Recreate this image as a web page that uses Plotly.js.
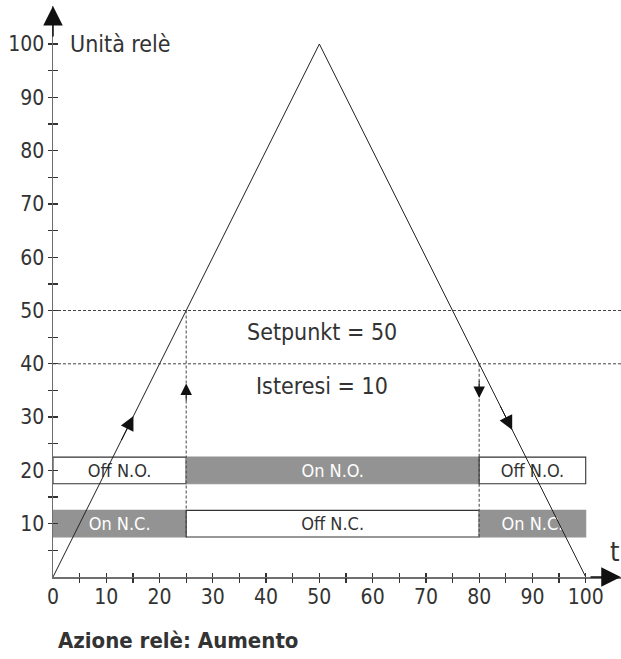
<!DOCTYPE html>
<html>
<head>
<meta charset="utf-8">
<script src="https://cdn.plot.ly/plotly-3.0.1.min.js"></script>
<style>html,body{margin:0;padding:0;background:#fff;}#chart{width:621px;height:659px;}</style>
</head>
<body>
<div id="chart"></div>
<script>
// ---- data ----
var curveT = [0, 50, 100];
var curveU = [0, 100, 0];
var setpoint = 50;
var hysteresis = 10;
var switchOn = 25;   // t where rising value reaches setpoint
var switchOff = 80;  // t where falling value reaches setpoint - hysteresis

var rowNO = 20, rowNC = 10;
var segStart = [0, 25, 80];
var segEnd = [25, 80, 100];
var labelsNO = ['Off N.O.', 'On N.O.', 'Off N.O.'];
var statesNO = ['off', 'on', 'off'];
var labelsNC = ['On N.C.', 'Off N.C.', 'On N.C.'];
var statesNC = ['on', 'off', 'on'];

var xTickVals = [0,10,20,30,40,50,60,70,80,90,100];
var xTickText = ['0','10','20','30','40','50','60','70','80','90','100'];
var minorTicks = [5,10,15,20,25,30,35,40,45,50,55,60,65,70,75,80,85,90,95,100];
var yTickVals = [10,20,30,40,50,60,70,80,90,100];
var yTickText = ['10','20','30','40','50','60','70','80','90','100'];

// ---- styling ----
var FONT = '"DejaVu Sans Condensed", "Liberation Sans Narrow", "Liberation Sans", sans-serif';
var TXT = '#333333';
var GRAY = '#939393';
var AX = '#6f6f6f';
var PXU = 5.33;           // px per unit
var L = 52.7, B = 82.4, T = 6;
var W = 621, H = 659;
var xMax = (W - L) / PXU;
var yMax = (H - B - T) / 5.326;

var traces = [];

function addRow(y, labels, states) {
  for (var i = 0; i < labels.length; i++) {
    var on = states[i] === 'on';
    traces.push({
      type: 'bar', orientation: 'h',
      y: [y], x: [segEnd[i] - segStart[i]], base: [segStart[i]],
      width: 5,
      marker: {color: on ? GRAY : '#ffffff', line: {color: on ? GRAY : '#333333', width: 1.1}},
      text: [labels[i]], textposition: 'inside', insidetextanchor: 'middle',
      textangle: 0, constraintext: 'none',
      textfont: {family: FONT, size: 18, color: on ? '#ffffff' : TXT},
      showlegend: false, hoverinfo: 'skip'
    });
  }
}
addRow(rowNO, labelsNO, statesNO);
addRow(rowNC, labelsNC, statesNC);

// triangle curve
traces.push({type: 'scatter', mode: 'lines', x: curveT, y: curveU,
  line: {color: '#222222', width: 1}, showlegend: false, hoverinfo: 'skip'});

// setpoint & hysteresis lines
var dashStyle = {color: '#444444', width: 1, dash: '3px,2px'};
traces.push({type: 'scatter', mode: 'lines', x: [0, xMax], y: [setpoint, setpoint], line: dashStyle, showlegend: false, hoverinfo: 'skip'});
traces.push({type: 'scatter', mode: 'lines', x: [0, xMax], y: [setpoint - hysteresis, setpoint - hysteresis], line: dashStyle, showlegend: false, hoverinfo: 'skip'});
// vertical switching lines
traces.push({type: 'scatter', mode: 'lines', x: [switchOn, switchOn], y: [setpoint, rowNC - 2.5], line: dashStyle, showlegend: false, hoverinfo: 'skip'});
traces.push({type: 'scatter', mode: 'lines', x: [switchOff, switchOff], y: [setpoint - hysteresis, rowNC - 2.5], line: dashStyle, showlegend: false, hoverinfo: 'skip'});

function arrow(x, y, ax, ay, size, width) {
  return {x: x, y: y, ax: ax, ay: ay, xref: 'x', yref: 'y', axref: 'x', ayref: 'y',
    text: '', showarrow: true, arrowhead: 2, arrowsize: size, arrowwidth: width || 1,
    arrowcolor: '#111111', standoff: 0, startstandoff: 0};
}
function label(text, x, y, size, xanchor) {
  return {x: x, y: y, xref: 'x', yref: 'y', text: text,
    showarrow: false, xanchor: xanchor || 'center', yanchor: 'middle',
    font: {family: FONT, size: size, color: TXT}};
}

var annotations = [
  // axis arrows
  arrow(0, yMax, 0, yMax - 6, 2.6, 1.5),
  arrow(xMax - 0.05, 0, xMax - 6, 0, 2.6, 1.5),
  // arrows on curve
  arrow(15.1, 30.2, 12.7, 25.4, 2.8, 1),
  arrow(86.2, 27.6, 83.8, 32.4, 2.8, 1),
  // arrows on switching lines
  arrow(switchOn, 36.3, switchOn, 32.8, 2.3, 1),
  arrow(switchOff, 33.6, switchOff, 37.1, 2.3, 1),
  // texts
  label('Unità relè', 2.9, 100, 23, 'left'),
  label('Setpunkt = ' + setpoint, 50.5, 45.9, 23),
  label('Isteresi = ' + hysteresis, 50.5, 35.8, 23),
  label('t', 105.5, 4.8, 27),
  {x: 0.6, y: -11.9 / yMax, xref: 'x', yref: 'paper', text: '<b>Azione relè: Aumento</b>',
   showarrow: false, xanchor: 'left', yanchor: 'middle',
   font: {family: FONT, size: 22, color: TXT}}
];

var tickCommon = {showline: false, showgrid: false, zeroline: false, fixedrange: true,
  tickmode: 'array', tickvals: minorTicks, ticklen: 4.5, tickwidth: 1.3, tickcolor: '#333333', showticklabels: false};

var layout = {
  width: W, height: H,
  margin: {l: L, r: 0, t: T, b: B, pad: 0},
  paper_bgcolor: '#ffffff', plot_bgcolor: '#ffffff',
  barmode: 'overlay', bargap: 0,
  showlegend: false, hovermode: false,
  font: {family: FONT, color: TXT},
  xaxis: {range: [0, xMax], showline: true, linecolor: AX, linewidth: 1.5,
    showgrid: false, zeroline: false, fixedrange: true,
    tickmode: 'array', tickvals: xTickVals, ticktext: xTickText, ticks: '', ticklen: 2,
    ticklabelstandoff: 0, tickfont: {family: FONT, size: 21, color: TXT}},
  xaxis2: Object.assign({overlaying: 'x', anchor: 'y', side: 'bottom', range: [0, xMax], ticks: 'outside'}, tickCommon),
  xaxis3: Object.assign({overlaying: 'x', anchor: 'y', side: 'bottom', range: [0, xMax], ticks: 'inside'}, tickCommon),
  yaxis: {range: [0, yMax], showline: true, linecolor: AX, linewidth: 1.5,
    showgrid: false, zeroline: false, fixedrange: true,
    tickmode: 'array', tickvals: yTickVals, ticktext: yTickText, ticks: '', ticklen: 0,
    ticklabelstandoff: 3, tickfont: {family: FONT, size: 21, color: TXT}},
  yaxis2: Object.assign({overlaying: 'y', anchor: 'x', side: 'left', range: [0, yMax], ticks: 'outside'}, tickCommon),
  yaxis3: Object.assign({overlaying: 'y', anchor: 'x', side: 'left', range: [0, yMax], ticks: 'inside'}, tickCommon),
  annotations: annotations
};

// invisible anchors so overlay axes are drawn
traces.push({type: 'scatter', mode: 'none', x: [0], y: [0], xaxis: 'x2', yaxis: 'y', showlegend: false, hoverinfo: 'skip'});
traces.push({type: 'scatter', mode: 'none', x: [0], y: [0], xaxis: 'x3', yaxis: 'y', showlegend: false, hoverinfo: 'skip'});
traces.push({type: 'scatter', mode: 'none', x: [0], y: [0], xaxis: 'x', yaxis: 'y2', showlegend: false, hoverinfo: 'skip'});
traces.push({type: 'scatter', mode: 'none', x: [0], y: [0], xaxis: 'x', yaxis: 'y3', showlegend: false, hoverinfo: 'skip'});

Plotly.newPlot('chart', traces, layout, {displayModeBar: false, staticPlot: true});
</script>
</body>
</html>
